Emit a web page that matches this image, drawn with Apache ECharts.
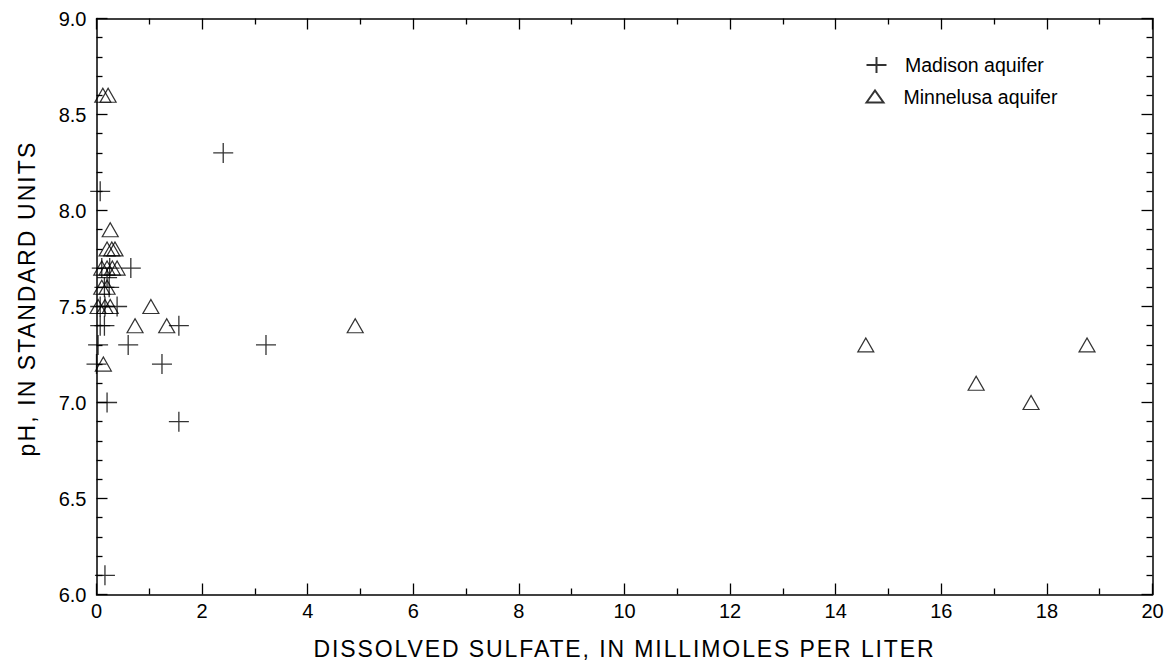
<!DOCTYPE html>
<html>
<head>
<meta charset="utf-8">
<script src="https://cdn.jsdelivr.net/npm/echarts@6/dist/echarts.min.js"></script>
<style>
  html, body { margin: 0; padding: 0; background: #fff; }
  #chart { width: 1170px; height: 666px; }
</style>
</head>
<body>
<div id="chart"></div>
<script>
// Madison aquifer: sulfate (mmol/L) and pH
const madisonSulfate = [0.07, 2.4, 0.65, 0.39, 0.6, 1.24, 1.56, 3.21, 0.2, 1.56, 0.16,
                        0.03, 0.0, 0.07, 0.15, 0.07, 0.16, 0.15, 0.24, 0.1, 0.25, 0.2];
const madisonPH      = [8.1, 8.3, 7.7, 7.5, 7.3, 7.2, 7.4, 7.3, 7.0, 6.9, 6.1,
                        7.3, 7.2, 7.4, 7.4, 7.5, 7.5, 7.6, 7.6, 7.7, 7.7, 7.65];

// Minnelusa aquifer
const minnelusaSulfate = [0.12, 0.22, 0.26, 0.2, 0.29, 0.35, 0.1, 0.2, 0.3, 0.39, 0.1, 0.2,
                          0.03, 0.16, 0.26, 1.03, 0.73, 1.33, 0.13, 4.9, 14.57, 16.66, 17.7, 18.76];
const minnelusaPH      = [8.6, 8.6, 7.9, 7.8, 7.8, 7.8, 7.7, 7.7, 7.7, 7.7, 7.6, 7.6,
                          7.5, 7.5, 7.5, 7.5, 7.4, 7.4, 7.2, 7.4, 7.3, 7.1, 7.0, 7.3];

const seriesNames = ['Madison aquifer', 'Minnelusa aquifer'];
const xTitle = 'DISSOLVED SULFATE, IN MILLIMOLES PER LITER';
const yTitle = 'pH, IN STANDARD UNITS';

const font = 'Liberation Sans, Arial, Helvetica, sans-serif';
const crossPath = 'path://M0,10 L20,10 M10,0 L10,20';
const legendCross = 'path://M0,8 L20,8 M10,0 L10,16';
const legendTriangle = 'path://M0,12 L8.5,0 L17,12 Z';

function zip(xs, ys) {
    return xs.map((x, i) => [x, ys[i]]);
}

const chart = echarts.init(document.getElementById('chart'), null, { renderer: 'svg' });

const tickLine = { color: '#000', width: 1.3 };
const xBase = {
    type: 'value', min: 0, max: 20, interval: 2,
    axisLine: { onZero: false, lineStyle: { color: '#000', width: 1.5 } },
    axisTick: { inside: true, length: 11, lineStyle: tickLine },
    minorTick: { show: true, splitNumber: 2, length: 6, lineStyle: tickLine },
    splitLine: { show: false }
};
const yBase = {
    type: 'value', min: 6, max: 9, interval: 0.5,
    axisLine: { onZero: false, lineStyle: { color: '#000', width: 1.5 } },
    axisTick: { inside: true, length: 11, lineStyle: tickLine },
    minorTick: { show: true, splitNumber: 5, length: 6, lineStyle: tickLine },
    splitLine: { show: false }
};

const legendText = { fontFamily: font, fontSize: 19.5, lineHeight: 19, color: '#000' };

const option = {
    backgroundColor: '#fff',
    animation: false,
    textStyle: { fontFamily: font, color: '#000' },
    grid: { left: 96.5, right: 17.5, top: 18.5, bottom: 71.5 },
    legend: [
        {
            left: 865.5, top: 55, padding: 0,
            itemWidth: 47, itemHeight: 16,
            textStyle: legendText,
            data: [{ name: seriesNames[0], icon: legendCross }]
        },
        {
            left: 865.5, top: 86.5, padding: 0,
            itemWidth: 47, itemHeight: 12,
            textStyle: legendText,
            data: [{ name: seriesNames[1], icon: legendTriangle }]
        }
    ],
    xAxis: [
        Object.assign({}, xBase, {
            position: 'bottom',
            name: xTitle,
            nameLocation: 'middle',
            nameGap: 43,
            nameTextStyle: { fontFamily: font, fontSize: 23, color: '#000' },
            axisLabel: { fontFamily: font, fontSize: 20, color: '#000', margin: 6 }
        }),
        Object.assign({}, xBase, { position: 'top', axisLabel: { show: false } })
    ],
    yAxis: [
        Object.assign({}, yBase, {
            position: 'left',
            name: yTitle,
            nameLocation: 'middle',
            nameGap: 58,
            nameTextStyle: { fontFamily: font, fontSize: 23, color: '#000', padding: [0, 0, 0, 16] },
            axisLabel: {
                fontFamily: font, fontSize: 20, color: '#000', margin: 10,
                formatter: v => v.toFixed(1)
            }
        }),
        Object.assign({}, yBase, { position: 'right', axisLabel: { show: false } })
    ],
    series: [
        {
            name: seriesNames[0],
            type: 'scatter',
            symbol: crossPath,
            symbolSize: 20,
            itemStyle: { color: 'rgba(0,0,0,0)', borderColor: '#000', borderWidth: 1.3 },
            data: zip(madisonSulfate, madisonPH)
        },
        {
            name: seriesNames[1],
            type: 'scatter',
            symbol: 'triangle',
            symbolSize: [16, 14],
            itemStyle: { color: 'rgba(0,0,0,0)', borderColor: '#000', borderWidth: 1.2 },
            data: zip(minnelusaSulfate, minnelusaPH)
        }
    ]
};

chart.setOption(option);

// the original lettering of the axis titles is widely spaced
function spaceTitles() {
    document.querySelectorAll('#chart text').forEach(t => {
        const s = t.textContent.trim();
        if (s === xTitle) t.style.letterSpacing = '1.9px';
        if (s === yTitle) t.style.letterSpacing = '2.1px';
    });
}
spaceTitles();
chart.on('finished', spaceTitles);
</script>
</body>
</html>
